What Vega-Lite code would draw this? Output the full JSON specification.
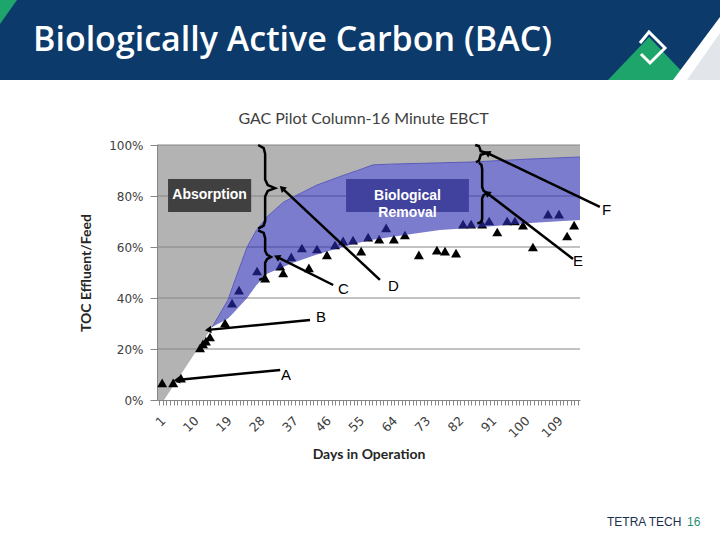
{
  "$schema": "https://vega.github.io/schema/vega-lite/v6.json",
  "padding": 0,
  "background": "white",
  "spacing": 65,
  "bounds": "flush",
  "config": {"view": {"stroke": null}, "concat": {"spacing": 0}},
  "datasets": {
    "tri": [
      {"day": 1.9, "pct": 6.7}, {"day": 4.9, "pct": 6.7}, {"day": 7.0, "pct": 8.6},
      {"day": 12.2, "pct": 20.4}, {"day": 13.0, "pct": 22.0}, {"day": 13.8, "pct": 23.1}, {"day": 14.9, "pct": 24.7},
      {"day": 19.0, "pct": 30.2}, {"day": 20.9, "pct": 38.0}, {"day": 22.8, "pct": 43.1},
      {"day": 27.7, "pct": 50.6}, {"day": 29.9, "pct": 47.8}, {"day": 34.0, "pct": 52.5}, {"day": 34.8, "pct": 49.8},
      {"day": 37.0, "pct": 56.1}, {"day": 39.9, "pct": 59.6}, {"day": 41.8, "pct": 51.8}, {"day": 44.0, "pct": 59.2},
      {"day": 46.7, "pct": 56.9}, {"day": 48.9, "pct": 60.8}, {"day": 51.1, "pct": 62.4}, {"day": 53.8, "pct": 62.7},
      {"day": 56.0, "pct": 58.4}, {"day": 57.9, "pct": 63.9}, {"day": 60.9, "pct": 63.1}, {"day": 62.8, "pct": 67.5},
      {"day": 64.9, "pct": 63.1}, {"day": 67.9, "pct": 64.7}, {"day": 71.7, "pct": 56.9}, {"day": 76.6, "pct": 58.8},
      {"day": 78.8, "pct": 58.4}, {"day": 81.8, "pct": 57.6}, {"day": 83.7, "pct": 69.0}, {"day": 85.9, "pct": 69.0},
      {"day": 88.9, "pct": 69.0}, {"day": 90.8, "pct": 70.2}, {"day": 93.0, "pct": 65.9}, {"day": 95.7, "pct": 70.2},
      {"day": 97.8, "pct": 70.2}, {"day": 100.0, "pct": 68.6}, {"day": 102.7, "pct": 60.0}, {"day": 106.8, "pct": 72.9},
      {"day": 109.8, "pct": 72.9}, {"day": 112.0, "pct": 64.3}, {"day": 113.9, "pct": 68.6}
    ],
    "band": [
      {"day": 2.4, "lo": 0, "hi": 0},
      {"day": 15.5, "lo": 28.6, "hi": 28.6},
      {"day": 19.8, "lo": 32.0, "hi": 39.2},
      {"day": 21.2, "lo": 34.0, "hi": 45.0},
      {"day": 25.0, "lo": 40.0, "hi": 60.0},
      {"day": 27.5, "lo": 45.0, "hi": 66.5},
      {"day": 30.4, "lo": 49.5, "hi": 71.8},
      {"day": 34.8, "lo": 52.2, "hi": 77.5},
      {"day": 37.5, "lo": 53.8, "hi": 79.6},
      {"day": 44.0, "lo": 57.1, "hi": 84.3},
      {"day": 50.0, "lo": 59.6, "hi": 87.5},
      {"day": 55.0, "lo": 61.6, "hi": 90.0},
      {"day": 59.2, "lo": 62.8, "hi": 92.2},
      {"day": 64.0, "lo": 63.9, "hi": 92.5},
      {"day": 77.4, "lo": 66.7, "hi": 93.0},
      {"day": 85.6, "lo": 67.5, "hi": 93.3},
      {"day": 101.9, "lo": 69.4, "hi": 94.5},
      {"day": 115.5, "lo": 70.6, "hi": 95.3}
    ],
    "grid": [{"pct": 20}, {"pct": 40}, {"pct": 60}, {"pct": 80}, {"pct": 100}],
    "braces": [
      {"id": "b1", "ord": 1, "day": 28.0, "pct": 100.0}, {"id": "b1", "ord": 2, "day": 29.5, "pct": 98.8},
      {"id": "b1", "ord": 3, "day": 29.9, "pct": 96.5}, {"id": "b1", "ord": 4, "day": 29.9, "pct": 86.5},
      {"id": "b1", "ord": 5, "day": 30.6, "pct": 84.3}, {"id": "b1", "ord": 6, "day": 32.6, "pct": 83.1},
      {"id": "b1", "ord": 7, "day": 30.6, "pct": 82.0}, {"id": "b1", "ord": 8, "day": 29.9, "pct": 79.8},
      {"id": "b1", "ord": 9, "day": 29.9, "pct": 70.2}, {"id": "b1", "ord": 10, "day": 29.5, "pct": 68.4},
      {"id": "b1", "ord": 11, "day": 28.0, "pct": 67.2},
      {"id": "b2", "ord": 1, "day": 28.0, "pct": 66.5}, {"id": "b2", "ord": 2, "day": 29.5, "pct": 65.5},
      {"id": "b2", "ord": 3, "day": 29.9, "pct": 63.5}, {"id": "b2", "ord": 4, "day": 29.9, "pct": 58.5},
      {"id": "b2", "ord": 5, "day": 30.4, "pct": 57.0}, {"id": "b2", "ord": 6, "day": 31.5, "pct": 56.1},
      {"id": "b2", "ord": 7, "day": 30.4, "pct": 55.2}, {"id": "b2", "ord": 8, "day": 29.9, "pct": 53.8},
      {"id": "b2", "ord": 9, "day": 29.9, "pct": 49.0}, {"id": "b2", "ord": 10, "day": 29.5, "pct": 47.8},
      {"id": "b2", "ord": 11, "day": 28.3, "pct": 47.1},
      {"id": "b3", "ord": 1, "day": 87.0, "pct": 100.0}, {"id": "b3", "ord": 2, "day": 88.0, "pct": 99.6},
      {"id": "b3", "ord": 3, "day": 88.3, "pct": 98.6}, {"id": "b3", "ord": 4, "day": 88.5, "pct": 97.6},
      {"id": "b3", "ord": 5, "day": 90.2, "pct": 96.9}, {"id": "b3", "ord": 6, "day": 88.5, "pct": 96.2},
      {"id": "b3", "ord": 7, "day": 88.3, "pct": 95.0}, {"id": "b3", "ord": 8, "day": 88.0, "pct": 93.8},
      {"id": "b3", "ord": 9, "day": 87.2, "pct": 93.3},
      {"id": "b4", "ord": 1, "day": 88.0, "pct": 93.0}, {"id": "b4", "ord": 2, "day": 88.7, "pct": 92.2},
      {"id": "b4", "ord": 3, "day": 88.9, "pct": 90.5}, {"id": "b4", "ord": 4, "day": 88.9, "pct": 83.5},
      {"id": "b4", "ord": 5, "day": 89.3, "pct": 82.0}, {"id": "b4", "ord": 6, "day": 90.2, "pct": 81.2},
      {"id": "b4", "ord": 7, "day": 89.3, "pct": 80.4}, {"id": "b4", "ord": 8, "day": 88.9, "pct": 79.0},
      {"id": "b4", "ord": 9, "day": 88.9, "pct": 71.0}, {"id": "b4", "ord": 10, "day": 88.6, "pct": 69.8},
      {"id": "b4", "ord": 11, "day": 87.6, "pct": 69.2}
    ],
    "arrows": [
      {"label": "A", "day": 34.0, "pct": 11.8, "day2": 5.9, "pct2": 7.8},
      {"label": "B", "day": 42.1, "pct": 31.4, "day2": 14.4, "pct2": 27.5},
      {"label": "C", "day": 48.4, "pct": 45.1, "day2": 33.1, "pct2": 56.1},
      {"label": "D", "day": 61.1, "pct": 47.1, "day2": 34.5, "pct2": 83.1},
      {"label": "E", "day": 113.6, "pct": 55.3, "day2": 90.2, "pct2": 81.2},
      {"label": "F", "day": 120.9, "pct": 75.7, "day2": 90.2, "pct2": 96.9}
    ],
    "letters": [
      {"t": "A", "day": 34.2, "pct": 9.8}, {"t": "B", "day": 43.7, "pct": 32.5},
      {"t": "C", "day": 49.7, "pct": 43.5}, {"t": "D", "day": 63.3, "pct": 44.7},
      {"t": "E", "day": 113.6, "pct": 54.5}, {"t": "F", "day": 121.5, "pct": 74.5}
    ],
    "boxes": [
      {"box": "Absorption", "day": 3.5, "day2": 26.1, "pct": 73.7, "pct2": 86.7},
      {"box": "Biological Removal", "day": 51.9, "day2": 85.3, "pct": 73.7, "pct2": 86.7}
    ],
    "boxtext": [
      {"t": "Absorption", "day": 14.8, "pct": 80.2},
      {"t": "Biological\nRemoval", "day": 68.6, "pct": 79.9}
    ]
  },
  "vconcat": [
    {
      "width": 720,
      "height": 80,
      "view": {"fill": "#0b3a6b", "stroke": null},
      "layer": [
        {
          "data": {"values": [{"x": 0, "top": 0, "bot": 24}, {"x": 17, "top": 0, "bot": 0}]},
          "mark": {"type": "area", "color": "#1ea56b"},
          "encoding": {
            "x": {"field": "x", "type": "quantitative", "scale": {"domain": [0, 720], "nice": false, "zero": false}, "axis": null},
            "y": {"field": "top", "type": "quantitative", "scale": {"domain": [0, 80], "reverse": true, "nice": false}, "axis": null},
            "y2": {"field": "bot"}
          }
        },
        {
          "data": {"values": [{"x": 608, "top": 80, "bot": 80}, {"x": 649, "top": 37, "bot": 80}, {"x": 690, "top": 80, "bot": 80}]},
          "mark": {"type": "area", "color": "#1ea56b"},
          "encoding": {"x": {"field": "x", "type": "quantitative"}, "y": {"field": "top", "type": "quantitative"}, "y2": {"field": "bot"}}
        },
        {
          "data": {"values": [{"x": 673, "top": 80, "bot": 80}, {"x": 720, "top": 17, "bot": 80}]},
          "mark": {"type": "area", "color": "#ffffff"},
          "encoding": {"x": {"field": "x", "type": "quantitative"}, "y": {"field": "top", "type": "quantitative"}, "y2": {"field": "bot"}}
        },
        {
          "data": {"values": [{"x": 687, "top": 80, "bot": 80}, {"x": 720, "top": 33, "bot": 80}]},
          "mark": {"type": "area", "color": "#e2e6eb"},
          "encoding": {"x": {"field": "x", "type": "quantitative"}, "y": {"field": "top", "type": "quantitative"}, "y2": {"field": "bot"}}
        },
        {
          "data": {"values": [{"o": 1, "x": 640, "y": 43}, {"o": 2, "x": 649, "y": 32}, {"o": 3, "x": 665, "y": 48}, {"o": 4, "x": 650, "y": 63}, {"o": 5, "x": 641, "y": 54}]},
          "mark": {"type": "line", "color": "white", "strokeWidth": 3},
          "encoding": {"x": {"field": "x", "type": "quantitative"}, "y": {"field": "y", "type": "quantitative"}, "order": {"field": "o"}}
        },
        {
          "data": {"values": [{"t": "Biologically Active Carbon (BAC)", "x": 33, "y": 41}]},
          "mark": {"type": "text", "color": "white", "font": "Open Sans", "fontWeight": 600, "fontSize": 34, "align": "left", "baseline": "middle"},
          "encoding": {"x": {"field": "x", "type": "quantitative"}, "y": {"field": "y", "type": "quantitative"}, "text": {"field": "t"}}
        }
      ]
    },
    {
      "spacing": 0,
      "bounds": "flush",
      "hconcat": [
        {
          "width": 157,
          "height": 255,
          "data": {"values": [{}]},
          "mark": {"type": "point", "opacity": 0},
          "encoding": {}
        },
        {
          "width": 423,
          "height": 255,
          "view": {"fill": "#b3b3b3", "stroke": null},
          "title": {"text": "GAC Pilot Column-16 Minute EBCT", "font": "Lato", "fontSize": 16, "fontWeight": "normal", "color": "#404040", "frame": "group", "anchor": "middle", "offset": 12, "dx": -5},
          "layer": [
            {
              "data": {"name": "band"},
              "mark": {"type": "area", "color": "#ffffff", "opacity": 1},
              "encoding": {
                "x": {"field": "day", "type": "quantitative", "scale": {"domain": [0.5, 115.5], "nice": false, "zero": false},
                  "axis": {"title": "Days in Operation", "tickCount": 115, "labelExpr": "(datum.value - 1) % 9 == 0 ? datum.value : ''", "labelAngle": -45, "labelOverlap": false, "labelFlush": false, "labelPadding": 9, "grid": false, "domainColor": "#868686", "tickColor": "#868686", "tickSize": 5, "labelFont": "DejaVu Sans", "labelFontSize": 12.5, "labelColor": "#404040", "titleFont": "Lato", "titleFontSize": 14, "titleFontWeight": "bold", "titleColor": "#262626", "titlePadding": 8}},
                "y": {"field": "hi", "type": "quantitative", "scale": {"domain": [0, 100], "nice": false},
                  "axis": {"title": "TOC Effluent/Feed", "values": [0, 20, 40, 60, 80, 100], "labelExpr": "datum.value + '%'", "grid": false, "domainColor": "#868686", "tickColor": "#868686", "tickSize": 7, "labelFont": "DejaVu Sans", "labelFontSize": 12, "labelColor": "#404040", "labelPadding": 7, "titleFont": "Lato", "titleFontSize": 14, "titleFontWeight": "bold", "titleColor": "#262626", "titlePadding": 15}}
              }
            },
            {
              "data": {"name": "grid"},
              "mark": {"type": "rule", "color": "#868686", "strokeWidth": 1},
              "encoding": {"y": {"field": "pct", "type": "quantitative"}}
            },
            {
              "data": {"name": "tri"},
              "mark": {"type": "point", "shape": "triangle-up", "filled": true, "color": "#000000", "opacity": 1, "size": 100},
              "encoding": {"x": {"field": "day", "type": "quantitative"}, "y": {"field": "pct", "type": "quantitative"}}
            },
            {
              "data": {"name": "band"},
              "mark": {"type": "area", "color": "#2b2bb0", "opacity": 0.62},
              "encoding": {"x": {"field": "day", "type": "quantitative"}, "y": {"field": "hi", "type": "quantitative"}, "y2": {"field": "lo"}}
            },
            {
              "data": {"name": "band"},
              "transform": [{"filter": "datum.day >= 15"}],
              "mark": {"type": "line", "color": "#5a5ab8", "strokeWidth": 1},
              "encoding": {"x": {"field": "day", "type": "quantitative"}, "y": {"field": "hi", "type": "quantitative"}}
            },
            {
              "data": {"name": "braces"},
              "mark": {"type": "line", "color": "#000000", "strokeWidth": 2.5, "interpolate": "linear"},
              "encoding": {"x": {"field": "day", "type": "quantitative"}, "y": {"field": "pct", "type": "quantitative"}, "detail": {"field": "id"}, "order": {"field": "ord"}}
            },
            {
              "data": {"name": "arrows"},
              "mark": {"type": "rule", "color": "#000000", "strokeWidth": 2.5, "clip": false},
              "encoding": {"x": {"field": "day", "type": "quantitative"}, "y": {"field": "pct", "type": "quantitative"}, "x2": {"field": "day2"}, "y2": {"field": "pct2"}}
            },
            {
              "data": {"name": "arrows"},
              "transform": [{"calculate": "atan2((datum.day2 - datum.day) * 3.678, (datum.pct2 - datum.pct) * 2.55) * 180 / PI", "as": "ang"}],
              "mark": {"type": "point", "shape": "triangle-up", "filled": true, "color": "#000000", "opacity": 1, "size": 55, "clip": false},
              "encoding": {"x": {"field": "day2", "type": "quantitative"}, "y": {"field": "pct2", "type": "quantitative"}, "angle": {"field": "ang", "type": "quantitative", "scale": null}}
            },
            {
              "data": {"name": "boxes"},
              "mark": {"type": "rect"},
              "encoding": {
                "x": {"field": "day", "type": "quantitative"}, "x2": {"field": "day2"},
                "y": {"field": "pct", "type": "quantitative"}, "y2": {"field": "pct2"},
                "color": {"field": "box", "type": "nominal", "scale": {"domain": ["Absorption", "Biological Removal"], "range": ["#404040", "#41419e"]}, "legend": null}
              }
            },
            {
              "data": {"name": "boxtext"},
              "mark": {"type": "text", "color": "#ffffff", "font": "Liberation Sans", "fontWeight": "bold", "fontSize": 14, "lineBreak": "\n", "lineHeight": 17, "align": "center", "baseline": "middle"},
              "encoding": {"x": {"field": "day", "type": "quantitative"}, "y": {"field": "pct", "type": "quantitative"}, "text": {"field": "t"}}
            },
            {
              "data": {"name": "letters"},
              "mark": {"type": "text", "color": "#000000", "font": "Liberation Sans", "fontSize": 15, "align": "left", "baseline": "middle", "clip": false},
              "encoding": {"x": {"field": "day", "type": "quantitative"}, "y": {"field": "pct", "type": "quantitative"}, "text": {"field": "t"}}
            }
          ]
        }
      ]
    },
    {
      "width": 720,
      "height": 330,
      "layer": [
        {
          "data": {"values": [{"t": "TETRA TECH", "x": 607, "y": 312}]},
          "mark": {"type": "text", "font": "Liberation Sans", "fontSize": 12, "align": "left", "baseline": "middle", "color": "#1c2f4f"},
          "encoding": {
            "x": {"field": "x", "type": "quantitative", "scale": {"domain": [0, 720], "nice": false, "zero": false}, "axis": null},
            "y": {"field": "y", "type": "quantitative", "scale": {"domain": [0, 330], "reverse": true, "nice": false}, "axis": null},
            "text": {"field": "t"}
          }
        },
        {
          "data": {"values": [{"t": "16", "x": 687, "y": 312}]},
          "mark": {"type": "text", "font": "Liberation Sans", "fontSize": 12, "align": "left", "baseline": "middle", "color": "#2a8c74"},
          "encoding": {
            "x": {"field": "x", "type": "quantitative"},
            "y": {"field": "y", "type": "quantitative"},
            "text": {"field": "t"}
          }
        }
      ]
    }
  ]
}
